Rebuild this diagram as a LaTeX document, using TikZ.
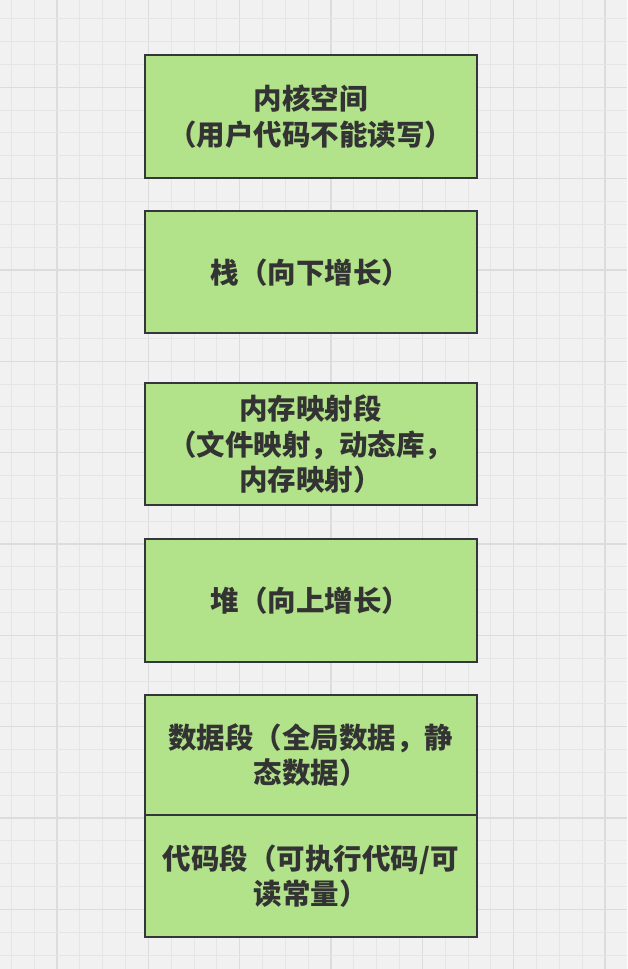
\documentclass[tikz,border=0pt]{standalone}
\usepackage{fontspec}
\newfontfamily\cjk{Noto Sans CJK SC}
\definecolor{bgc}{HTML}{F1F1F1}
\definecolor{minorc}{HTML}{E5E5E5}
\definecolor{majorc}{HTML}{DCDCDC}
\definecolor{boxfill}{HTML}{B2E38B}
\definecolor{boxline}{HTML}{33373B}
\definecolor{txt}{HTML}{333333}
\tikzset{
  seg/.style={draw=boxline, fill=boxfill, line width=2pt, rectangle,
    minimum width=332pt, minimum height=122.5pt, inner sep=0pt,
    align=center, text=txt,
    font=\cjk\bfseries\fontsize{28.5}{35.5}\selectfont},
}
\begin{document}
\begin{tikzpicture}[x=1pt,y=-1pt]
\useasboundingbox (0,0) rectangle (627,969);
\fill[bgc] (0,0) rectangle (627,969);
\begin{scope}
\clip (0,0) rectangle (627,969);
\foreach \i in {0,...,27}{
  \pgfmathtruncatemacro{\m}{mod(\i,4)}
  \ifnum\m=2
    \draw[majorc, line width=1.3pt] ({11.33+\i*22.835},0) -- ({11.33+\i*22.835},969);
  \else
    \draw[minorc, line width=1pt] ({11.33+\i*22.835},0) -- ({11.33+\i*22.835},969);
  \fi
}
\foreach \i in {1,...,43}{
  \pgfmathtruncatemacro{\m}{mod(\i,4)}
  \ifnum\m=0
    \draw[majorc, line width=1.3pt] (0,{-4.04+\i*22.835}) -- (627,{-4.04+\i*22.835});
  \else
    \draw[minorc, line width=1pt] (0,{-4.04+\i*22.835}) -- (627,{-4.04+\i*22.835});
  \fi
}
\end{scope}
\node[seg] (kernel) at (310.6,116.4) {内核空间\\（用户代码不能读写）};
\node[seg] (stack) at (310.6,272.2) {栈（向下增长）};
\node[seg] (mmap) at (310.6,444.2) {内存映射段\\（文件映射，动态库，\\内存映射）};
\node[seg] (heap) at (310.6,600.4) {堆（向上增长）};
\node[seg, minimum height=120pt] (data) at (310.6,755) {数据段（全局数据，静\\态数据）};
\node[seg, minimum height=122.3pt] (text) at (310.6,876.2) {代码段（可执行代码/可\\读常量）};
\end{tikzpicture}
\end{document}
